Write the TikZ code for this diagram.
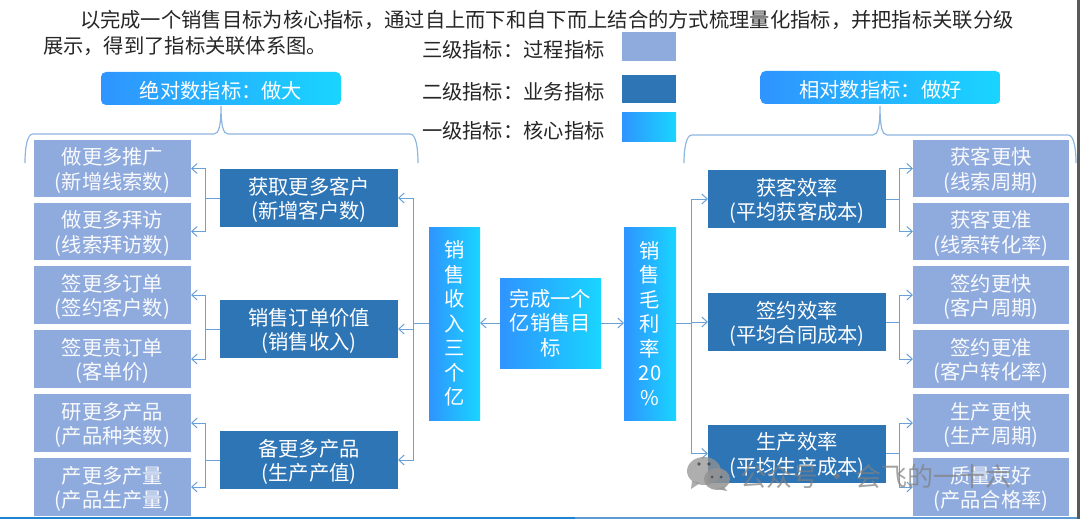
\documentclass[tikz,border=0pt]{standalone}
\usepackage{fontspec}
\setmainfont{Noto Sans CJK SC}
\usetikzlibrary{arrows.meta}
\definecolor{lightbox}{HTML}{8FAADC}
\definecolor{darkbox}{HTML}{2E75B6}
\definecolor{gradL}{HTML}{2F94FF}
\definecolor{gradR}{HTML}{19D5FF}
\definecolor{wire}{HTML}{6AA2D8}
\definecolor{bracec}{HTML}{8DB6E0}
\definecolor{inktext}{HTML}{262626}
\definecolor{edgestrip}{HTML}{595959}
\definecolor{ruleA}{HTML}{1F82D2}
\definecolor{ruleB}{HTML}{5B9BD5}
\newcommand{\fsz}{\fontsize{20.3}{24.5}\selectfont}
\newcommand{\topgap}{\rule{0pt}{21pt}}
\tikzset{
  base/.style={inner sep=0pt,outer sep=0pt,align=center,font=\fsz,text=white},
  lightnode/.style={base,fill=lightbox,text=white!94!lightbox,minimum width=157pt,minimum height=57.5pt},
  midleft/.style={base,fill=darkbox,minimum width=178pt,minimum height=58pt},
  grad/.style={base,left color=gradL,right color=gradR,shading angle=90},
  pill/.style={grad,rounded corners=5pt,minimum width=240pt,minimum height=33pt},
  plain/.style={inner sep=0pt,outer sep=0pt,font=\fsz,text=inktext,anchor=west},
  conn/.style={draw=wire,line width=1pt,-{Straight Barb[length=5.5pt,width=10pt,line width=1pt]}},
  stem/.style={draw=wire,line width=1pt},
  bracel/.style={draw=bracec,line width=1.2pt},
  wmark/.style={text=gray,opacity=0.72,inner sep=0pt,font=\fontsize{26}{30}\selectfont,anchor=west}
}
\begin{document}
\begin{tikzpicture}[x=1pt,y=-1pt]
\useasboundingbox (0,0) rectangle (1080,519);
% edge strip
\fill[edgestrip] (1077,0) rectangle (1080,519);
% header
\node[plain] (t1) at (80,20) {以完成一个销售目标为核心指标，通过自上而下和自下而上结合的方式梳理量化指标，并把指标关联分级};
\node[plain] (t2) at (43,46) {展示，得到了指标关联体系图。};
% legend
\node[plain] (k3) at (422,50) {三级指标：过程指标};
\node[plain] (k2) at (422,92) {二级指标：业务指标};
\node[plain] (k1) at (422,131) {一级指标：核心指标};
\node[base,fill=lightbox,minimum width=54pt,minimum height=29pt] (c3) at (649,46.5) {};
\node[base,fill=darkbox,minimum width=54pt,minimum height=28pt] (c2) at (649,89) {};
\node[grad,minimum width=54pt,minimum height=28pt] (c1) at (649,127) {};
% pills
\node[pill] (pa) at (221,88.5) {\topgap 绝对数指标：做大};
\node[pill] (pb) at (880.5,87.5) {\topgap 相对数指标：做好};
% braces
\draw[bracel] (25,163) .. controls (25,148) and (27,134) .. (33,134) -- (214,134) .. controls (219,134) and (221,125) .. (221,106) .. controls (221,125) and (223,134) .. (228,134) -- (410,134) .. controls (416,134) and (418,148) .. (418,163);
\draw[bracel] (684,163) .. controls (684,149) and (686,135) .. (692,135) -- (873,135) .. controls (878,135) and (880,126) .. (880,106) .. controls (880,126) and (882,135) .. (887,135) -- (1068,135) .. controls (1074,135) and (1076,149) .. (1076,163);
% left leaves
\node[lightnode] (l1) at (112.5,168.5) {\topgap 做更多推广\\(新增线索数)};
\node[lightnode] (l2) at (112.5,231.5) {\topgap 做更多拜访\\(线索拜访数)};
\node[lightnode] (l3) at (112.5,295) {\topgap 签更多订单\\(签约客户数)};
\node[lightnode] (l4) at (112.5,359) {\topgap 签更贵订单\\(客单价)};
\node[lightnode] (l5) at (112.5,423) {\topgap 研更多产品\\(产品种类数)};
\node[lightnode] (l6) at (112.5,487) {\topgap 产更多产量\\(产品生产量)};
% left middle
\node[midleft] (m1) at (309,198) {\topgap 获取更多客户\\(新增客户数)};
\node[midleft] (m2) at (309,329) {\topgap 销售订单价值\\(销售收入)};
\node[midleft] (m3) at (309,460) {\topgap 备更多产品\\(生产产值)};
% centre
\node[grad,minimum width=51pt,minimum height=193pt] (sa) at (454.5,323.5) {销\\售\\收\\入\\三\\个\\亿};
\node[grad,minimum width=101pt,minimum height=90pt] (ct) at (550.5,323) {完成一个\\亿销售目\\标};
\node[grad,minimum width=52pt,minimum height=193pt] (sb) at (650,323.5) {销\\售\\毛\\利\\率\\20\\\%};
% right middle
\node[midleft] (r1) at (797,199) {\topgap 获客效率\\(平均获客成本)};
\node[midleft] (r2) at (797,322) {\topgap 签约效率\\(平均合同成本)};
\node[midleft] (r3) at (797,453.5) {\topgap 生产效率\\(平均生产成本)};
% right leaves
\node[lightnode,minimum width=156pt] (q1) at (991,168.5) {\topgap 获客更快\\(线索周期)};
\node[lightnode,minimum width=156pt] (q2) at (991,231.5) {\topgap 获客更准\\(线索转化率)};
\node[lightnode,minimum width=156pt] (q3) at (991,295) {\topgap 签约更快\\(客户周期)};
\node[lightnode,minimum width=156pt] (q4) at (991,359) {\topgap 签约更准\\(客户转化率)};
\node[lightnode,minimum width=156pt] (q5) at (991,423) {\topgap 生产更快\\(生产周期)};
\node[lightnode,minimum width=156pt] (q6) at (991,487) {\topgap 质量更好\\(产品合格率)};
% connectors
\coordinate (jl) at (205.5,0);
\coordinate (jr) at (899,0);
\coordinate (js) at (413,0);
\coordinate (jb) at (691.5,0);
\foreach \m/\a/\b in {m1/l1/l2,m2/l3/l4,m3/l5/l6}{
  \draw[stem] (\m.west) -- (\m.west -| jl);
  \draw[conn] (\m.west -| jl) |- (\a.east);
  \draw[conn] (\m.west -| jl) |- (\b.east);
}
\foreach \m/\a/\b in {r1/q1/q2,r2/q3/q4,r3/q5/q6}{
  \draw[stem] (\m.east) -- (\m.east -| jr);
  \draw[conn] (\m.east -| jr) |- (\a.west);
  \draw[conn] (\m.east -| jr) |- (\b.west);
}
\draw[stem] (sa.west) -- (sa.west -| js);
\foreach \m in {m1,m2,m3}{\draw[conn] (sa.west -| js) |- (\m.east);}
\draw[stem] (sb.east) -- (sb.east -| jb);
\foreach \m in {r1,r2,r3}{\draw[conn] (sb.east -| jb) |- (\m.west);}
\draw[conn] (ct.west) -- (ct.west -| sa.east);
\draw[conn] (ct.east) -- (ct.east -| sb.west);
% bottom rule
\fill[ruleA] (0,517.3) rectangle (575,519);
\fill[ruleB] (575,517.3) rectangle (1077,519);
% watermark
\fill[gray!85,opacity=0.75] (704,471) ellipse [x radius=17,y radius=14];
\fill[gray!85,opacity=0.75] (692,481) -- (691,489) -- (700,483) -- cycle;
\fill[gray!85,opacity=0.85] (717,479) ellipse [x radius=13,y radius=11];
\fill[gray!85,opacity=0.85] (724,487) -- (727,491) -- (717,489) -- cycle;
\fill[gray!30!black,opacity=0.6] (699,464) circle [radius=1.8] (709,464) circle [radius=1.8] (712,477) circle [radius=1.5] (721,477) circle [radius=1.5];
\node[wmark] (wm) at (740,477) {公众号 · 会飞的一十六};
\end{tikzpicture}
\end{document}
